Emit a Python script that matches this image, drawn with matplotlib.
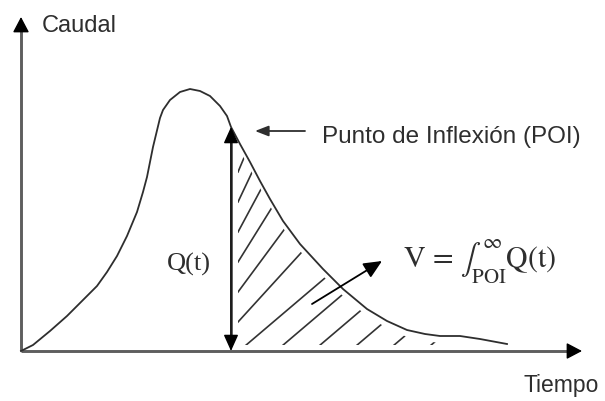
import numpy as np
import matplotlib
matplotlib.use("Agg")
import matplotlib.pyplot as plt
from matplotlib.patches import Polygon

plt.rcParams["font.family"] = ["Liberation Sans", "DejaVu Sans"]
plt.rcParams["mathtext.fontset"] = "stix"

# Hydrograph (time, discharge) in arbitrary units
tiempo = [0.0, 1.2, 2.9, 4.6, 6.1, 7.6, 8.6, 9.6, 10.6, 11.6, 12.2, 12.6,
          13.2, 13.9, 14.2, 14.9, 15.9, 16.9, 17.9, 18.9, 19.9, 20.6, 21.0,
          21.9, 22.9, 23.9, 24.9, 26.2, 27.9, 30.2, 32.2, 34.6, 36.6, 38.6,
          40.4, 41.9, 43.9, 45.9, 48.6]
caudal = [0.0, 0.6, 2.0, 3.5, 5.0, 6.5, 7.9, 9.5, 11.5, 13.9, 15.9, 17.4,
          20.4, 23.3, 24.1, 25.1, 25.9, 26.2, 26.0, 25.5, 24.5, 23.5, 22.4,
          20.7, 18.9, 17.0, 15.2, 13.0, 10.7, 8.2, 6.2, 4.2, 3.0, 2.1,
          1.7, 1.5, 1.5, 1.2, 0.7]
t_poi = 21.0          # inflection point (start of recession)
t_fin_rayado = 44.0   # end of the shaded recession volume

eje_y_label = "Caudal"
eje_x_label = "Tiempo"
poi_label = "Punto de Inflexión (POI)"
q_label = "Q(t)"
v_label = r"$\mathrm{V}\,=\,\int_{\mathrm{POI}}^{\infty}\mathrm{Q(t)}$"

t = np.array(tiempo)
q = np.array(caudal)
q_poi = float(np.interp(t_poi, t, q))

fig = plt.figure(figsize=(6.05, 4.02), dpi=100)
ax = fig.add_axes([0, 0, 1, 1])
ax.set_xlim(-2.1, 58.4)
ax.set_ylim(-5.0, 35.2)
ax.axis("off")

axis_col = "#5e5e5e"
ink = "#2e2e2e"

# coordinate axes with arrowheads
y_top, x_end = 33.4, 56.1
ax.plot([0, 0], [0, y_top - 1.0], color=axis_col, lw=2.1, solid_capstyle="butt")
ax.plot([0, x_end - 1.0], [0, 0], color=axis_col, lw=2.1, solid_capstyle="butt")
head = dict(arrowstyle="-|>,head_length=0.95,head_width=0.5", mutation_scale=10,
            color="black", lw=1.0, shrinkA=0, shrinkB=0)
ax.annotate("", xy=(0, y_top), xytext=(0, y_top - 1.4), arrowprops=head)
ax.annotate("", xy=(x_end, 0), xytext=(x_end - 1.4, 0), arrowprops=head)

# hydrograph curve
ax.plot(t, q, color=ink, lw=1.3, solid_joinstyle="round")

# hatched recession volume, clipped to the area under the curve
tt = np.linspace(t_poi + 0.7, t_fin_rayado, 200)
qq = np.maximum(np.interp(tt, t, q) - 0.7, 0.6)
clip_pts = np.vstack([[t_poi + 0.7, 0.6], np.column_stack([tt, qq]),
                      [t_fin_rayado, 0.6]])
clip = Polygon(clip_pts, closed=True, transform=ax.transData,
               facecolor="none", edgecolor="none")
ax.add_patch(clip)
hatch_col = "#333333"
for q0 in np.arange(2.9, 20.0, 3.0):
    s = 0.85 + 0.085 * q0
    x0 = t_poi + 0.7
    ln, = ax.plot([x0, x0 + 30], [q0, q0 + 30 * s], color=hatch_col, lw=1.2)
    ln.set_clip_path(clip)
for x0 in np.arange(22.4, t_fin_rayado, 3.7):
    ln, = ax.plot([x0, x0 + 30], [0.5, 0.5 + 30 * 0.85], color=hatch_col, lw=1.2)
    ln.set_clip_path(clip)

# Q(t) double arrow at the inflection point
ax.annotate("", xy=(t_poi, q_poi), xytext=(t_poi, 0),
            arrowprops=dict(arrowstyle="<|-|>,head_length=1.0,head_width=0.45",
                            mutation_scale=10, color="black", lw=1.0,
                            shrinkA=0, shrinkB=0))
ax.plot([t_poi, t_poi], [1.2, q_poi - 1.2], color=axis_col, lw=2.1)

# pointer to the inflection point
ax.annotate("", xy=(23.4, 22.0), xytext=(28.4, 22.0),
            arrowprops=dict(arrowstyle="-|>,head_length=0.9,head_width=0.35",
                            mutation_scale=9, color=ink, lw=1.3,
                            shrinkA=0, shrinkB=0))
ax.text(30.1, 21.5, poi_label, fontsize=17.5, color=ink, ha="left", va="center")

# pointer from the hatched area to the volume formula
ax.annotate("", xy=(36.1, 9.0), xytext=(29.1, 4.7),
            arrowprops=dict(arrowstyle="-|>,head_length=1.1,head_width=0.5",
                            mutation_scale=10, color="black", lw=1.3,
                            shrinkA=0, shrinkB=0))
ax.text(38.2, 9.0, v_label, fontsize=21.5, color=ink, ha="left", va="center")

# labels
ax.text(14.6, 8.8, q_label, fontsize=19, color=ink, ha="left", va="center",
        family="Liberation Serif")
ax.text(2.1, 32.6, eje_y_label, fontsize=17, color=ink, ha="left", va="center")
ax.text(50.3, -3.4, eje_x_label, fontsize=16.5, color=ink, ha="left", va="center")

fig.savefig("out.png", dpi=100)
